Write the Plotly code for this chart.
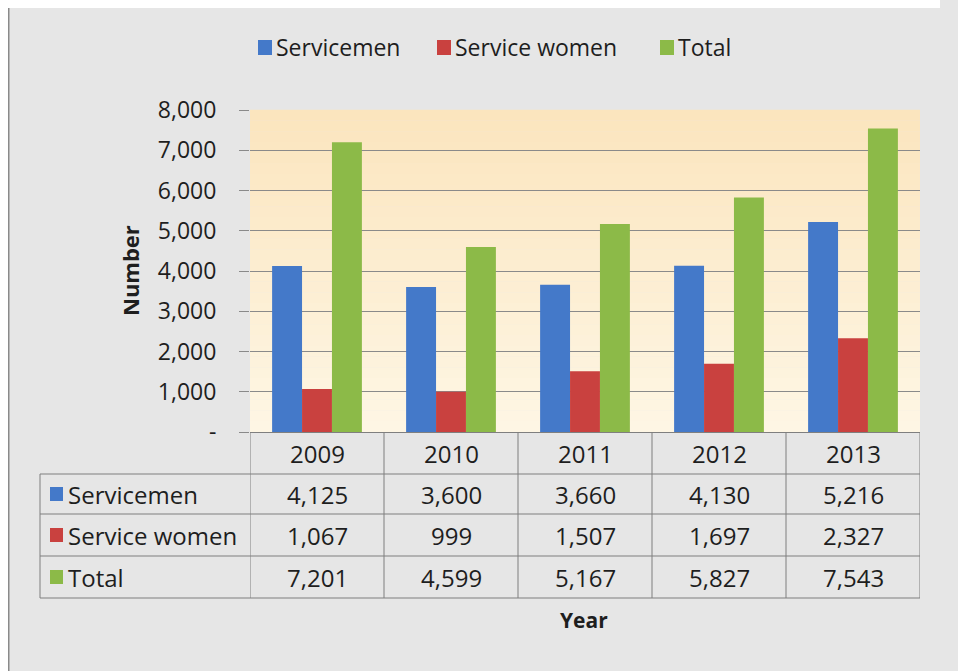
import plotly.graph_objects as go

years = ['2009', '2010', '2011', '2012', '2013']
servicemen = [4125, 3600, 3660, 4130, 5216]
service_women = [1067, 999, 1507, 1697, 2327]
total = [7201, 4599, 5167, 5827, 7543]

series_names = ['Servicemen', 'Service women', 'Total']
series_values = [servicemen, service_women, total]
colors = ['#4479c9', '#c9413f', '#8cba48']

y_ticks = [0, 1000, 2000, 3000, 4000, 5000, 6000, 7000, 8000]

FONT = 'Open Sans'
TXT = '#1e1e1e'
LINE = '#7f7f7f'
BG = '#e6e6e6'

# plot area in page pixels (page has an 8px body margin)
OFF = 8
PL, PR, PT, PB = 250, 920, 110, 432
W, H = PR - PL, PB - PT


def px(x):
    return (x - PL) / W


def py(y):
    return (PB - y) / H


fig = go.Figure()
for name, vals, c in zip(series_names, series_values, colors):
    fig.add_trace(go.Bar(x=years, y=vals, name=name, marker_color=c,
                         marker_line_width=0, showlegend=False))

shapes = []
annotations = []

# plot background gradient (peach at top -> cream at bottom)
top_rgb = (251, 229, 190)
bot_rgb = (254, 246, 228)
n = 30
for i in range(n):
    t = i / (n - 1)
    c = tuple(round(top_rgb[k] + (bot_rgb[k] - top_rgb[k]) * t) for k in range(3))
    shapes.append(dict(type='rect', xref='paper', yref='paper', layer='below',
                       x0=0, x1=1, y0=1 - (i + 1) / n, y1=1 - i / n + 0.001,
                       fillcolor='rgb(%d,%d,%d)' % c, line_width=0))

# outer chart border (top / left visible)
shapes.append(dict(type='line', xref='paper', yref='paper', x0=px(8), x1=px(980),
                   y0=py(6), y1=py(6), line=dict(color='#8a8a8a', width=3)))
shapes.append(dict(type='line', xref='paper', yref='paper', x0=px(8), x1=px(8),
                   y0=py(6), y1=py(700), line=dict(color='#8a8a8a', width=3)))

# legend
leg_x = [258, 437, 660]
for name, c, x0 in zip(series_names, colors, leg_x):
    shapes.append(dict(type='rect', xref='paper', yref='paper', x0=px(x0), x1=px(x0 + 14),
                       y0=py(55), y1=py(40), fillcolor=c, line_width=0))
    annotations.append(dict(text=name, xref='paper', yref='paper', x=px(x0 + 16), y=py(47),
                            xanchor='left', yanchor='middle', showarrow=False,
                            font=dict(family=FONT, size=23, color=TXT)))

# data table
row_y = [474, 514, 556, 598]
table_left = 40
for y in row_y:
    shapes.append(dict(type='line', xref='paper', yref='paper', x0=px(table_left), x1=1,
                       y0=py(y), y1=py(y), line=dict(color=LINE, width=1)))
shapes.append(dict(type='line', xref='paper', yref='paper', x0=px(table_left), x1=px(table_left),
                   y0=py(474), y1=py(598), line=dict(color=LINE, width=1)))
for i in range(len(years) + 1):
    shapes.append(dict(type='line', xref='x', yref='paper', x0=i - 0.5, x1=i - 0.5,
                       y0=0, y1=py(598), line=dict(color=LINE, width=1)))

for i, yr in enumerate(years):
    annotations.append(dict(text=yr, xref='x', yref='paper', x=i, y=py(453),
                            showarrow=False, yanchor='middle',
                            font=dict(family=FONT, size=24, color=TXT)))

row_centers = [494, 535, 577]
for name, vals, c, yc in zip(series_names, series_values, colors, row_centers):
    shapes.append(dict(type='rect', xref='paper', yref='paper', x0=px(50), x1=px(63),
                       y0=py(yc + 7), y1=py(yc - 7), fillcolor=c, line_width=0))
    annotations.append(dict(text=name, xref='paper', yref='paper', x=px(66), y=py(yc),
                            xanchor='left', yanchor='middle', showarrow=False,
                            font=dict(family=FONT, size=24, color=TXT)))
    for i, v in enumerate(vals):
        annotations.append(dict(text=f'{v:,}', xref='x', yref='paper', x=i, y=py(yc),
                                showarrow=False, yanchor='middle',
                                font=dict(family=FONT, size=24, color=TXT)))

# axis titles
annotations.append(dict(text='<b>Number</b>', xref='paper', yref='paper', x=px(130), y=py(271),
                        textangle=-90, showarrow=False, xanchor='center', yanchor='middle',
                        font=dict(family=FONT, size=22, color=TXT)))
annotations.append(dict(text='<b>Year</b>', xref='paper', yref='paper', x=px(584), y=py(620),
                        showarrow=False, xanchor='center', yanchor='middle',
                        font=dict(family=FONT, size=21, color=TXT)))

fig.update_layout(
    width=958, height=671, autosize=False,
    margin=dict(l=PL - OFF, r=958 - PR + OFF, t=PT - OFF, b=671 - PB + OFF),
    paper_bgcolor=BG,
    plot_bgcolor='rgba(0,0,0,0)',
    barmode='group', bargap=0.33, bargroupgap=0,
    shapes=shapes, annotations=annotations,
    font=dict(family=FONT, size=20, color=TXT),
)
fig.update_xaxes(range=[-0.5, len(years) - 0.5], showticklabels=False, showgrid=False,
                 zeroline=False, showline=False, ticks='')
fig.update_yaxes(range=[0, 8000], tickvals=y_ticks,
                 ticktext=['-' if v == 0 else f'{v:,}' for v in y_ticks],
                 showgrid=True, gridcolor='#8a8a8a', gridwidth=1,
                 zeroline=True, zerolinecolor=LINE, zerolinewidth=1,
                 ticks='outside', ticklen=10, tickcolor='#8a8a8a',
                 ticklabelstandoff=18, showline=False,
                 tickfont=dict(family=FONT, size=23, color=TXT))

# grey strip past the figure's right edge, white above / left of the border
fig.write_html('out.html', post_script=(
    "document.body.style.overflow='hidden';"
    "document.body.style.background='linear-gradient(to right, white 940px, %s 940px)';" % BG))
